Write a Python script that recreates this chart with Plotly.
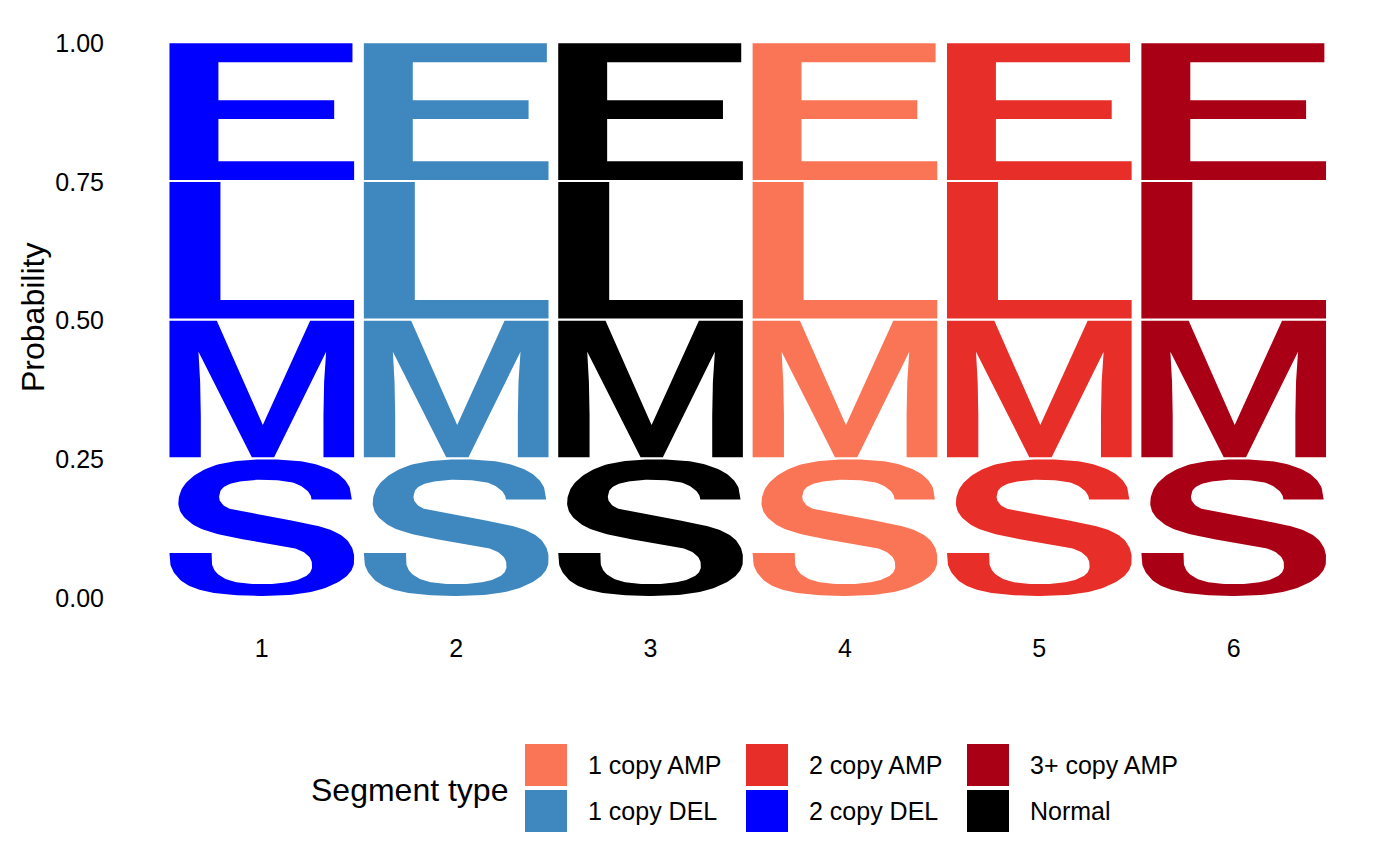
import plotly.graph_objects as go

# ---------------- data ----------------
positions = [1, 2, 3, 4, 5, 6]
position_labels = ["1", "2", "3", "4", "5", "6"]
stack_letters = ["S", "M", "L", "E"]          # bottom to top
prob_S = [0.25, 0.25, 0.25, 0.25, 0.25, 0.25]
prob_M = [0.25, 0.25, 0.25, 0.25, 0.25, 0.25]
prob_L = [0.25, 0.25, 0.25, 0.25, 0.25, 0.25]
prob_E = [0.25, 0.25, 0.25, 0.25, 0.25, 0.25]
segment_of_position = ["2 copy DEL", "1 copy DEL", "Normal",
                       "1 copy AMP", "2 copy AMP", "3+ copy AMP"]
legend_labels = ["1 copy AMP", "1 copy DEL", "2 copy AMP",
                 "2 copy DEL", "3+ copy AMP", "Normal"]
legend_colors = ["#FA7456", "#3F87BF", "#E82E28",
                 "#0000FF", "#AA0016", "#000000"]
y_ticks = [0.0, 0.25, 0.5, 0.75, 1.0]
y_tick_labels = ["0.00", "0.25", "0.50", "0.75", "1.00"]

probs = {"S": prob_S, "M": prob_M, "L": prob_L, "E": prob_E}
color_of = dict(zip(legend_labels, legend_colors))

# ---------------- glyph outlines (unit box) ----------------
def normalize(pts):
    xs = [p[0] for p in pts]
    ys = [p[1] for p in pts]
    x0, x1 = min(xs), max(xs)
    y0, y1 = min(ys), max(ys)
    return [((x - x0) / (x1 - x0), (y1 - y) / (y1 - y0)) for x, y in pts]


def catmull(chain, n=8):
    out = []
    pts = [chain[0]] + chain + [chain[-1]]
    for i in range(1, len(pts) - 2):
        p0, p1, p2, p3 = pts[i - 1], pts[i], pts[i + 1], pts[i + 2]
        for s in range(n):
            t = s / n
            t2, t3 = t * t, t * t * t
            x = 0.5 * ((2 * p1[0]) + (-p0[0] + p2[0]) * t +
                       (2 * p0[0] - 5 * p1[0] + 4 * p2[0] - p3[0]) * t2 +
                       (-p0[0] + 3 * p1[0] - 3 * p2[0] + p3[0]) * t3)
            y = 0.5 * ((2 * p1[1]) + (-p0[1] + p2[1]) * t +
                       (2 * p0[1] - 5 * p1[1] + 4 * p2[1] - p3[1]) * t2 +
                       (-p0[1] + 3 * p1[1] - 3 * p2[1] + p3[1]) * t3)
            out.append((x, y))
    out.append(chain[-1])
    return out


S_RAW = [(437, 135), (558, 135), (552, 100), (530, 68), (490, 42), (430, 23),
         (360, 15), (290, 13), (220, 17), (150, 30), (95, 55), (55, 90),
         (38, 130), (40, 165), (60, 195), (100, 222), (160, 242), (240, 258),
         (330, 272), (390, 285), (420, 300), (436, 320), (438, 345), (425, 365),
         (395, 380), (345, 390), (290, 393), (230, 390), (185, 380), (155, 362),
         (140, 340), (137, 318), (137, 298), (10, 298), (12, 330), (25, 360),
         (55, 390), (100, 410), (160, 422), (230, 428), (290, 429), (360, 427),
         (430, 418), (490, 400), (535, 375), (560, 345), (565, 315), (560, 285),
         (540, 255), (500, 230), (440, 212), (360, 196), (280, 182), (215, 170),
         (180, 158), (162, 140), (160, 120), (170, 100), (200, 85), (245, 77),
         (290, 75), (340, 77), (385, 85), (415, 100), (432, 118)]
S_SMOOTH = catmull(S_RAW[1:33]) + catmull(S_RAW[33:] + [S_RAW[0]])

M_RAW = [(8, 427), (8, 17), (150, 17), (288, 330), (430, 17), (562, 17),
         (562, 427), (470, 427), (470, 300), (472, 200), (478, 110),
         (322, 427), (255, 427), (95, 110), (100, 200), (102, 300), (102, 427)]

E_UNIT = [(0, 0), (1, 0), (1, 0.137), (0.265, 0.137), (0.265, 0.446),
          (0.892, 0.446), (0.892, 0.583), (0.265, 0.583), (0.265, 0.861),
          (0.991, 0.861), (0.991, 1), (0, 1)]
L_UNIT = [(0, 0), (1, 0), (1, 0.137), (0.276, 0.137), (0.276, 1), (0, 1)]

GLYPHS = {"S": normalize(S_SMOOTH), "M": normalize(M_RAW), "E": E_UNIT, "L": L_UNIT}

LETTER_WIDTH = 0.95
GAP = 0.0038

fig = go.Figure()
for i, pos in enumerate(positions):
    col = color_of[segment_of_position[i]]
    base = 0.0
    for letter in stack_letters:
        p = probs[letter][i]
        g = GLYPHS[letter]
        xs = [pos - LETTER_WIDTH / 2 + gx * LETTER_WIDTH for gx, gy in g]
        ys = [base + GAP + gy * (p - GAP) for gx, gy in g]
        xs.append(xs[0]); ys.append(ys[0])
        fig.add_trace(go.Scatter(x=xs, y=ys, mode="lines", fill="toself",
                                 fillcolor=col, line=dict(width=0, color=col),
                                 hoverinfo="skip", showlegend=False))
        base += p

# ---------------- layout ----------------
W, H = 1400, 866
LM, RM, TM, BM = 105, 50, 27, 235
PX_PER_X = 194.38
X1_PX = 261.8
PX_PER_Y = 554.8
Y1_PX = 43.3
Y0_PX = 598.1
pw = W - LM - RM
ph = H - TM - BM
xmin = 1 - (X1_PX - LM) / PX_PER_X
xmax = xmin + pw / PX_PER_X
ymax = 1 + (Y1_PX - TM) / PX_PER_Y
ymin = -((H - BM) - Y0_PX) / PX_PER_Y


def pxx(px):
    return (px - LM) / pw


def pxy(py):
    return ((H - BM) - py) / ph


FONT = "Liberation Sans, Arial, Helvetica, sans-serif"

fig.update_layout(
    width=W, height=H, autosize=False,
    margin=dict(l=LM, r=RM, t=TM, b=BM, pad=0),
    plot_bgcolor="white", paper_bgcolor="white",
    font=dict(family=FONT, color="black"),
    showlegend=False,
    xaxis=dict(range=[xmin, xmax], tickvals=positions, ticktext=position_labels,
               showgrid=False, zeroline=False, showline=False, ticks="",
               tickfont=dict(size=25, color="black", family=FONT)),
    yaxis=dict(range=[ymin, ymax], tickvals=y_ticks, ticktext=y_tick_labels,
               showgrid=False, zeroline=False, showline=False, ticks="",
               tickfont=dict(size=25, color="black", family=FONT)),
)

annotations = [dict(text="Probability", xref="paper", yref="paper",
                    x=pxx(33), y=pxy(318), xanchor="center", yanchor="middle",
                    textangle=-90, showarrow=False,
                    font=dict(size=32, color="black", family=FONT)),
               dict(text="Segment type", xref="paper", yref="paper",
                    x=pxx(309), y=pxy(790), xanchor="left", yanchor="middle",
                    showarrow=False, font=dict(size=32, color="black", family=FONT))]
shapes = []
KEY_X0, KEY_Y0, KEY, COL_STEP, ROW_STEP = 525, 744, 42, 221, 46
for k, (lab, colr) in enumerate(zip(legend_labels, legend_colors)):
    c, r = k // 2, k % 2
    x0 = KEY_X0 + c * COL_STEP
    y0 = KEY_Y0 + r * ROW_STEP
    shapes.append(dict(type="rect", xref="paper", yref="paper",
                       x0=pxx(x0), x1=pxx(x0 + KEY), y0=pxy(y0 + KEY), y1=pxy(y0),
                       fillcolor=colr, line=dict(width=0)))
    annotations.append(dict(text=lab, xref="paper", yref="paper",
                            x=pxx(x0 + 61), y=pxy(y0 + KEY / 2),
                            xanchor="left", yanchor="middle", showarrow=False,
                            font=dict(size=25, color="black", family=FONT)))

fig.update_layout(annotations=annotations, shapes=shapes)
fig.write_html("out.html")
